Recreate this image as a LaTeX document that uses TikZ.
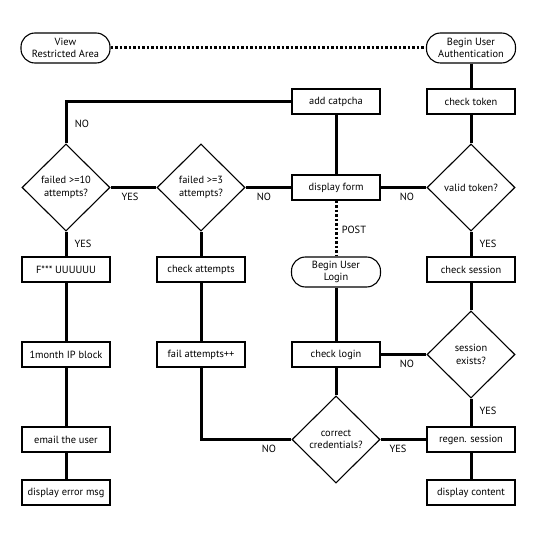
\documentclass[tikz,border=0pt]{standalone}
\usepackage{fontspec}
\setmainfont{PT Sans}
\usetikzlibrary{shapes.geometric}
\begin{document}
\begin{tikzpicture}[x=1pt,y=-1pt,
  every node/.style={font=\fontsize{10.4}{12.5}\selectfont},
  procbox/.style={draw,line width=1.1pt,minimum width=88pt,minimum height=25pt,inner sep=0pt},
  termbox/.style={draw,line width=1.1pt,rounded corners=14pt,minimum width=89pt,minimum height=30pt,inner sep=0pt,align=center},
  decide/.style={draw,diamond,line width=1.1pt,minimum width=88pt,minimum height=87pt,inner sep=0pt,align=center},
  conn/.style={line width=3pt},
  dotconn/.style={line width=3pt,dash pattern=on 2.6pt off 1.9pt},
  lbl/.style={inner sep=0pt}]
\useasboundingbox (0,0) rectangle (540,540);
% column 1
\node[termbox] (restricted) at (65.5,48) {View\\Restricted Area};
\node[decide] (f10) at (66,187.5) {failed >=10\\attempts?};
\node[procbox] (fuuu) at (66,269.5) {F*** UUUUUU};
\node[procbox] (ipblock) at (66,354.5) {1month IP block};
\node[procbox] (email) at (66,439.5) {email the user};
\node[procbox] (errmsg) at (66,492.5) {display error msg};
% column 2
\node[decide] (f3) at (201,187.5) {failed >=3\\attempts?};
\node[procbox] (checkatt) at (201,269.5) {check attempts};
\node[procbox] (failinc) at (201,354.5) {fail attempts++};
% column 3
\node[procbox] (catpcha) at (336,101.5) {add catpcha};
\node[procbox] (form) at (336,187.5) {display form};
\node[termbox] (login) at (336,272) {Begin User\\Login};
\node[procbox] (checklogin) at (336,354.5) {check login};
\node[decide] (correct) at (336,439.5) {correct\\credentials?};
% column 4
\node[termbox] (auth) at (471,48) {Begin User\\Authentication};
\node[procbox] (token) at (471,101.5) {check token};
\node[decide] (valid) at (471,187.5) {valid token?};
\node[procbox] (checksession) at (471,269.5) {check session};
\node[decide] (exists) at (471,354.5) {session\\exists?};
\node[procbox] (regen) at (471,439.5) {regen. session};
\node[procbox] (content) at (471,492.5) {display content};
% connectors
\draw[dotconn] (restricted.east) -- (auth.west);
\draw[conn] (auth) -- (token);
\draw[conn] (token) -- (valid);
\draw[conn] (valid) -- (form);
\draw[conn] (valid) -- (checksession);
\draw[conn] (checksession) -- (exists);
\draw[conn] (exists) -- (checklogin);
\draw[conn] (exists) -- (regen);
\draw[conn] (regen) -- (content);
\draw[conn] (correct) -- (regen);
\draw[conn] (login) -- (checklogin);
\draw[conn] (checklogin) -- (correct);
\draw[dotconn] (form.south) -- (login.north);
\draw[conn] (correct.west) -| (failinc.south);
\draw[conn] (failinc) -- (checkatt);
\draw[conn] (checkatt) -- (f3);
\draw[conn] (f3) -- (form);
\draw[conn] (f3) -- (f10);
\draw[conn] (f10) -- (fuuu);
\draw[conn] (fuuu) -- (ipblock);
\draw[conn] (ipblock) -- (email);
\draw[conn] (email) -- (errmsg);
\draw[conn] (catpcha.west) -| (f10.north);
\draw[conn] (catpcha) -- (form);
% labels
\node[lbl] (l1) at (82,124) {NO};
\node[lbl] (l2) at (130,197) {YES};
\node[lbl] (l3) at (83,244) {YES};
\node[lbl] (l4) at (264,197) {NO};
\node[lbl] (l5) at (407,197) {NO};
\node[lbl] (l6) at (488,244) {YES};
\node[lbl] (l7) at (354,230) {POST};
\node[lbl] (l8) at (407,364) {NO};
\node[lbl] (l9) at (488,411) {YES};
\node[lbl] (l10) at (269,449) {NO};
\node[lbl] (l11) at (398,449) {YES};
\end{tikzpicture}
\end{document}
